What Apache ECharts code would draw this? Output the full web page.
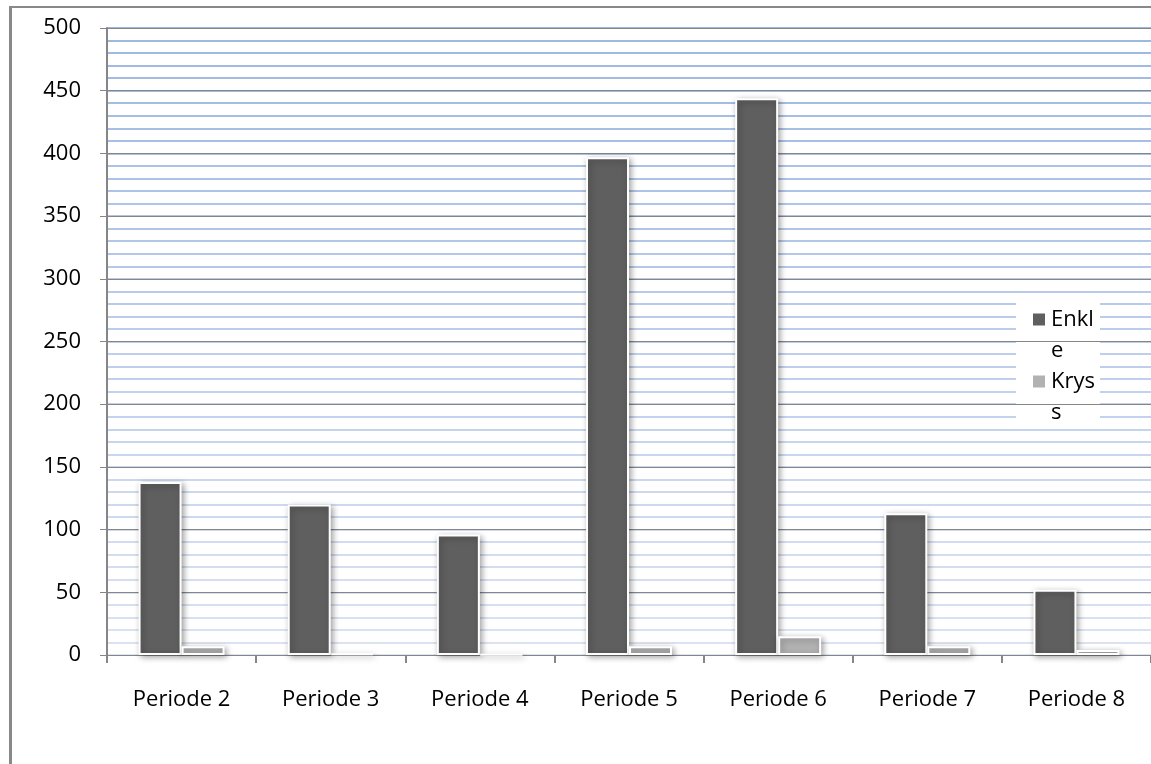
<!DOCTYPE html>
<html>
<head>
<meta charset="utf-8">
<script src="https://cdn.jsdelivr.net/npm/echarts@6/dist/echarts.min.js"></script>
<style>
  html, body { margin: 0; padding: 0; background: #fff; }
  #chart { width: 1151px; height: 764px; }
</style>
</head>
<body>
<div id="chart"></div>
<script>
// Periods along the x axis
const categories = ['Periode 2', 'Periode 3', 'Periode 4', 'Periode 5', 'Periode 6', 'Periode 7', 'Periode 8'];
// Series values
const enkle = [138, 120, 96, 397, 444, 113, 52];
const kryss = [7, 1, 0.5, 7, 15, 7, 4];
// Legend texts as they wrap in the narrow legend box
// (a blank first line keeps the first text line level with the colour key)
const legendText = { 'Enkle': ' \nEnkl\ne', 'Kryss': ' \nKrys\ns' };

const FONT = 'Open Sans';
const FONT_SIZE = 22;
const AXIS_GRAY = '#868686';

// Minor gridline colours fade from a strong blue at the top to a pale blue at the bottom
function minorColors(count) {
  const top = [157, 183, 226], bottom = [220, 228, 243];
  const out = [];
  for (let i = 0; i < count; i++) {
    const t = i / (count - 1);
    const c = bottom.map((b, k) => Math.round(b + (top[k] - b) * t));
    out.push('rgb(' + c.join(',') + ')');
  }
  return out;
}

const chart = echarts.init(document.getElementById('chart'), null, { renderer: 'canvas' });

const barShadow = {
  borderColor: '#ffffff',
  borderWidth: 2,
  shadowColor: 'rgba(0,0,0,0.35)',
  shadowBlur: 6,
  shadowOffsetX: 2,
  shadowOffsetY: 2
};

chart.setOption({
  animation: false,
  backgroundColor: '#ffffff',
  textStyle: { fontFamily: FONT },
  grid: { left: 107, top: 28, width: 1047, height: 627, containLabel: false },
  xAxis: {
    type: 'category',
    data: categories,
    boundaryGap: true,
    z: 0,
    axisLine: { lineStyle: { color: AXIS_GRAY, width: 1 } },
    axisTick: { show: true, length: 8, lineStyle: { color: AXIS_GRAY, width: 2 } },
    axisLabel: { margin: 34, fontSize: FONT_SIZE, color: '#000', fontFamily: FONT },
    splitLine: { show: false }
  },
  yAxis: [
    {
      // minor gridlines every 10
      type: 'value', position: 'left', min: 0, max: 500, interval: 10, z: 0,
      axisLine: { show: false }, axisTick: { show: false }, axisLabel: { show: false },
      splitLine: { show: true, lineStyle: { color: minorColors(51), width: 2 } }
    },
    {
      // major axis with labels every 50
      type: 'value', position: 'left', min: 0, max: 500, interval: 50, z: 3,
      axisLine: { show: true, lineStyle: { color: AXIS_GRAY, width: 2 } },
      axisTick: { show: true, length: 7, lineStyle: { color: AXIS_GRAY, width: 1 } },
      axisLabel: { margin: 26, fontSize: FONT_SIZE, color: '#000', fontFamily: FONT },
      splitLine: { show: true, lineStyle: { color: AXIS_GRAY, width: 1 } }
    }
  ],
  legend: {
    orient: 'vertical',
    left: 1026,
    top: 268,
    itemWidth: 14,
    itemHeight: 14,
    itemGap: -31,
    icon: 'rect',
    z: 6,
    formatter: name => legendText[name],
    textStyle: { fontSize: FONT_SIZE, lineHeight: 31, color: '#000', fontFamily: FONT },
    data: ['Enkle', 'Kryss']
  },
  graphic: [
    // white legend box; it hides the minor gridlines behind it
    { type: 'rect', z: 1, shape: { x: 1016, y: 298, width: 84, height: 124 }, style: { fill: '#ffffff' } },
    // chart frame
    { type: 'line', z: 10, shape: { x1: 10.5, y1: 7, x2: 10.5, y2: 764 }, style: { stroke: '#898989', lineWidth: 3 } },
    { type: 'line', z: 10, shape: { x1: 9, y1: 7, x2: 1151, y2: 7 }, style: { stroke: '#898989', lineWidth: 2 } }
  ],
  series: [
    {
      name: 'Enkle', type: 'bar', yAxisIndex: 1, z: 5,
      barWidth: 43, barGap: '0%',
      itemStyle: Object.assign({ color: '#5f5f5f' }, barShadow),
      data: enkle
    },
    {
      name: 'Kryss', type: 'bar', yAxisIndex: 1, z: 5,
      barWidth: 43, barGap: '0%',
      itemStyle: Object.assign({ color: '#b2b2b2' }, barShadow),
      data: kryss
    }
  ]
});
</script>
</body>
</html>
